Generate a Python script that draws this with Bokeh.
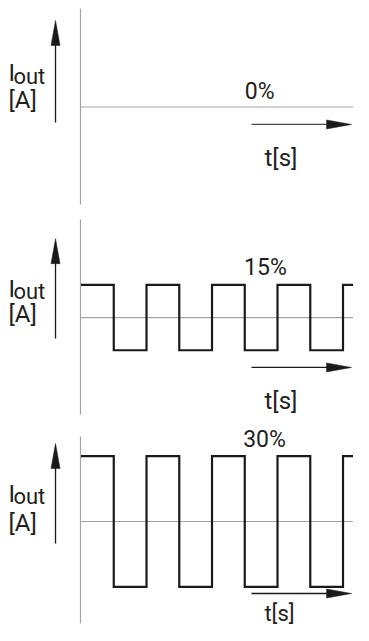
from bokeh.plotting import figure
from bokeh.layouts import column
from bokeh.models import Range1d
from bokeh.core.properties import value
from bokeh.embed import file_html
from bokeh.resources import INLINE

# ---------------- data ----------------
duty_labels = ["0%", "15%", "30%"]
amplitudes = [0, 15, 30]                      # peak current level (same units as %)
switch_times = [0.0, 0.5, 1.0, 1.5, 2.0, 2.5, 3.0, 3.5, 4.0, 4.18]
wave_15 = [15, -15, 15, -15, 15, -15, 15, -15, 15, 15]
wave_30 = [30, -30, 30, -30, 30, -30, 30, -30, 30, 30]
waves = [None, wave_15, wave_30]
y_label_top = "I"
y_label_sub = "out"
y_unit = "[A]"
x_label = "t[s]"

# ---------------- layout / style ----------------
FONT = "Roboto"
TXT = "#231f20"
GRAY = "#a4a4a4"
BLACK = "#1a1a1a"
W = 353
X_RANGE = (-1.229, 4.160)
PX_X = 65.5     # px per time unit
PX_Y = 2.18     # px per current unit

panels = [
    dict(h=212, yr=(-48.4, 48.85), ax=(45.2, -44.7), up=(-7.1, 39.7), i_y=15.4, a_y=3.4,
         pct=(2.50, 7.1), arr_y=-8.0, ts_y=-23.6, ts_size="24px", arr_col="#4a4a4a"),
    dict(h=203, yr=(-44.95, 48.2), ax=(45.0, -44.5), up=(-9.6, 36.2), i_y=13.3, a_y=1.4,
         pct=(2.49, 22.9), arr_y=-22.9, ts_y=-38.1, ts_size="24px", arr_col=BLACK),
    dict(h=210, yr=(-47.7, 48.62), ax=(38.99, -46.8), up=(-10.1, 35.8), i_y=12.84, a_y=-0.46,
         pct=(2.475, 37.6), arr_y=-33.03, ts_y=-42.2, ts_size="22px", arr_col=BLACK),
]

UP_X = -0.389
LBL_X = -1.108
AX_X = -0.008
T_ARR = (2.603, 4.13)
TS_X = 2.80
HEAD_L = 25.0   # px
HEAD_W = 9.0    # px

figs = []
for i, cfg in enumerate(panels):
    p = figure(width=W, height=cfg["h"], x_range=Range1d(*X_RANGE),
               y_range=Range1d(*cfg["yr"]), output_backend="svg",
               toolbar_location=None, min_border=0)
    p.axis.visible = False
    p.grid.visible = False
    p.outline_line_color = None
    p.background_fill_color = "white"
    p.border_fill_color = "white"

    # vertical gray axis and zero line
    p.segment(x0=[AX_X], y0=[cfg["ax"][0]], x1=[AX_X], y1=[cfg["ax"][1]],
              line_color=GRAY, line_width=1.2)
    p.segment(x0=[AX_X], y0=[0], x1=[X_RANGE[1]], y1=[0], line_color=GRAY, line_width=1.2)

    # square wave
    if waves[i] is not None:
        p.step(x=switch_times, y=waves[i], mode="after", line_color=BLACK,
               line_width=2.2, line_join="miter")

    # vertical (current) arrow
    y0, ytip = cfg["up"]
    hl = HEAD_L / PX_Y
    hw = HEAD_W / 2 / PX_X
    p.segment(x0=[UP_X], y0=[y0], x1=[UP_X], y1=[ytip - hl * 0.5], line_color=BLACK, line_width=1.3)
    p.patch(x=[UP_X - hw, UP_X, UP_X + hw], y=[ytip - hl, ytip, ytip - hl],
            fill_color=BLACK, line_color=BLACK, line_width=0.5)

    # horizontal (time) arrow
    ya = cfg["arr_y"]
    hlx = HEAD_L / PX_X
    hwy = HEAD_W / 2 / PX_Y
    p.segment(x0=[T_ARR[0]], y0=[ya], x1=[T_ARR[1] - hlx * 0.5], y1=[ya],
              line_color=cfg["arr_col"], line_width=1.3)
    p.patch(x=[T_ARR[1] - hlx, T_ARR[1], T_ARR[1] - hlx], y=[ya - hwy, ya, ya + hwy],
            fill_color=BLACK, line_color=BLACK, line_width=0.5)

    # texts
    common = dict(text_font=value(FONT), text_color=TXT, text_baseline="alphabetic",
                  text_align="left")
    p.text(x=[LBL_X], y=[cfg["i_y"]], text=[y_label_top], text_font_size="24px", **common)
    p.text(x=[LBL_X], y=[cfg["i_y"]], text=[y_label_sub], text_font_size="22px",
           x_offset=5, y_offset=3, **common)
    p.text(x=[LBL_X], y=[cfg["a_y"]], text=[y_unit], text_font_size="24px", **common)
    p.text(x=[cfg["pct"][0]], y=[cfg["pct"][1]], text=[duty_labels[i]],
           text_font_size="23px", **common)
    p.text(x=[TS_X], y=[cfg["ts_y"]], text=[x_label], text_font_size=cfg["ts_size"], **common)
    figs.append(p)

layout = column(*figs, spacing=0)
open("out.html", "w").write(file_html(layout, INLINE))
